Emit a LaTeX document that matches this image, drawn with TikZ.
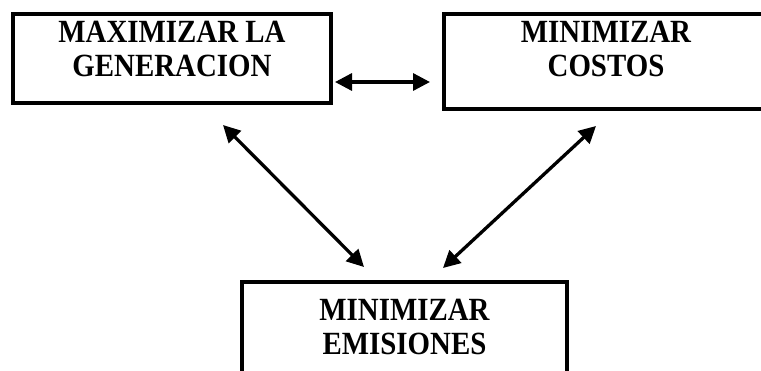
\documentclass[tikz,border=0pt]{standalone}
\usepackage{fontspec}
\setmainfont{Liberation Serif}
\usetikzlibrary{calc,positioning,arrows.meta}

\tikzset{
  goalbox/.style={draw,line width=4bp,rectangle,inner sep=0pt},
  goaltext/.style={inner sep=0pt,align=center,transform shape,yscale=1.12,
    font=\bfseries\fontsize{29}{30.7}\selectfont},
  biarrow/.style={line width=3.3bp,{Triangle[length=17bp,width=17bp]}-{Triangle[length=17bp,width=17bp]}}
}

\begin{document}
\begin{tikzpicture}[x=1bp,y=-1bp]
  \useasboundingbox (0,0) rectangle (761,370);
  %
  % Boxes
  \node[goalbox,minimum width=318bp,minimum height=89bp] (gen) at (172,58.5) {};
  \node[goalbox,minimum width=324bp,minimum height=95bp] (cost) at (606,61.5) {};
  \node[goalbox,minimum width=325bp,minimum height=104bp] (emi) at (404.5,334) {};
  %
  % Texts
  \node[goaltext,below=8.5bp of gen.north] (gentext) {MAXIMIZAR LA\\GENERACION};
  \node[goaltext,below=8.5bp of cost.north] (costtext) {MINIMIZAR\\COSTOS};
  \node[goaltext,below=19bp of emi.north] (emitext) {MINIMIZAR\\EMISIONES};
  %
  % Arrows
  \draw[biarrow] ($(gen.east)+(2,23.5)$) -- ($(cost.west)+(-12,20.5)$);
  \draw[biarrow] ($(gen.south)+(51,20)$) -- ($(emi.north)+(-40.5,-13)$);
  \draw[biarrow] ($(cost.south)+(-10,15)$) -- ($(emi.north)+(38.5,-12)$);
  %
\end{tikzpicture}
\end{document}
